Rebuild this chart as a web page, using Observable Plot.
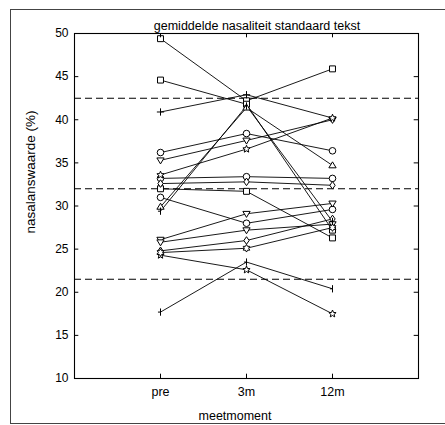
<!DOCTYPE html>
<html><head><meta charset="utf-8">
<script src="https://cdn.jsdelivr.net/npm/d3@7"></script>
<script src="https://cdn.jsdelivr.net/npm/@observablehq/plot@0.6"></script>
<style>
body{margin:0;background:#fff;}
#wrap{position:relative;width:445px;height:425px;overflow:hidden;font-family:"Liberation Sans",Arial,Helvetica,sans-serif;color:#000;}
#border{position:absolute;left:10px;top:9px;width:440px;height:413px;border:1px solid #444;border-right:none;}
#chart{position:absolute;left:0;top:0;}
.lbl{position:absolute;white-space:nowrap;font-size:12.5px;line-height:13px;}
#title{left:257px;top:20px;transform:translateX(-50%);}
#ylab{left:30px;top:172px;transform:translate(-50%,-50%) rotate(-90deg);font-size:13.5px;}
#xlab{left:235px;top:410px;transform:translateX(-50%);}
</style></head>
<body>
<div id="wrap">
  <div id="border"></div>
  <div id="chart"></div>
  <div class="lbl" id="title">gemiddelde nasaliteit standaard tekst</div>
  <div class="lbl" id="ylab">nasalanswaarde (%)</div>
  <div class="lbl" id="xlab">meetmoment</div>
</div>
<script>
// ---- data ----
const moments = ["pre", "3m", "12m"];
const preValues = [49.4, 44.6, 40.9, 36.2, 35.3, 33.6, 33.2, 32.6, 32.0, 31.0, 29.9, 29.4, 26.1, 25.8, 24.8, 24.6, 24.3, 17.7];
const m3Values  = [42.2, 41.8, 42.9, 38.4, 37.6, 36.6, 33.4, 32.8, 31.7, 28.0, 41.4, 41.6, 29.1, 27.2, 26.0, 25.1, 22.6, 23.5];
const m12Values = [45.9, 27.2, 40.2, 36.4, 40.0, 40.2, 33.2, 32.4, 26.3, 29.6, 34.7, 28.2, 30.3, 27.9, 28.5, 27.5, 17.5, 20.4];
const markers = ["square", "square", "plus", "circle", "triDown", "star", "circle", "diamond", "square", "circle",
                 "triUp", "tick", "triDown", "triDown", "diamond", "hexagram", "star", "tick"];
const refLines = [42.5, 32, 21.5];
const yTicks = [10, 15, 20, 25, 30, 35, 40, 45, 50];
const xTicks = [1, 2, 3];

// ---- symbols ----
const rad = s => Math.sqrt(s / Math.PI);
const symbols = {
  square: {draw(c, s){ const r = rad(s)*0.9; c.rect(-r, -r, 2*r, 2*r); }},
  circle: {draw(c, s){ const r = rad(s); c.moveTo(r, 0); c.arc(0, 0, r, 0, 2*Math.PI); }},
  diamond: {draw(c, s){ const r = rad(s)*1.15; c.moveTo(0,-r); c.lineTo(r*0.7,0); c.lineTo(0,r); c.lineTo(-r*0.7,0); c.closePath(); }},
  plus: {draw(c, s){ const r = rad(s)*1.1; c.moveTo(-r,0); c.lineTo(r,0); c.moveTo(0,-r); c.lineTo(0,r); }},
  triDown: {draw(c, s){ const r = rad(s)*1.1; c.moveTo(0,r); c.lineTo(-r,-r*0.65); c.lineTo(r,-r*0.65); c.closePath(); }},
  triUp: {draw(c, s){ const r = rad(s)*1.1; c.moveTo(0,-r); c.lineTo(-r,r*0.65); c.lineTo(r,r*0.65); c.closePath(); }},
  star: {draw(c, s){ const R = rad(s)*1.15, r = R*0.45;
    for (let i = 0; i < 10; i++) { const a = -Math.PI/2 + i*Math.PI/5, rr = i%2 ? r : R;
      const x = rr*Math.cos(a), y = rr*Math.sin(a); i ? c.lineTo(x,y) : c.moveTo(x,y); } c.closePath(); }},
  hexagram: {draw(c, s){ const R = rad(s)*1.15, r = R*0.58;
    for (let i = 0; i < 12; i++) { const a = -Math.PI/2 + i*Math.PI/6, rr = i%2 ? r : R;
      const x = rr*Math.cos(a), y = rr*Math.sin(a); i ? c.lineTo(x,y) : c.moveTo(x,y); } c.closePath(); }},
  tick: {draw(c, s){ const r = rad(s)*1.1; c.moveTo(0,-r); c.lineTo(0,r); c.moveTo(-r*0.7,0); c.lineTo(0,0); }}
};

// ---- long table ----
const rows = [];
preValues.forEach((v, i) => {
  [v, m3Values[i], m12Values[i]].forEach((val, k) => rows.push({subject: i, t: k + 1, value: val, marker: markers[i]}));
});

const dotMarks = Object.keys(symbols).map(name =>
  Plot.dot(rows.filter(d => d.marker === name), {x: "t", y: "value", symbol: symbols[name], r: 3.3,
    stroke: "#000", fill: "white", strokeWidth: 1}));

const chart = Plot.plot({
  width: 445, height: 425,
  marginLeft: 74, marginRight: 27, marginTop: 33, marginBottom: 47,
  style: {fontFamily: "'Liberation Sans', Arial, Helvetica, sans-serif", fontSize: "12px", color: "#000", background: "transparent"},
  x: {domain: [0, 4], label: null},
  y: {domain: [10, 50], label: null},
  marks: [
    Plot.ruleY(refLines, {y: d => d, stroke: "#000", strokeWidth: 1.1, strokeDasharray: "7,4"}),
    Plot.line(rows, {x: "t", y: "value", z: "subject", stroke: "#000", strokeWidth: 0.9}),
    ...dotMarks,
    Plot.frame({stroke: "#000", strokeWidth: 1.1}),
    // inward ticks on all four sides
    Plot.ruleY(yTicks, {y: d => d, x1: 0, x2: 0.05, stroke: "#000"}),
    Plot.ruleY(yTicks, {y: d => d, x1: 3.95, x2: 4, stroke: "#000"}),
    Plot.ruleX(xTicks, {x: d => d, y1: 10, y2: 10.5, stroke: "#000"}),
    Plot.ruleX(xTicks, {x: d => d, y1: 49.5, y2: 50, stroke: "#000"}),
    Plot.axisY({ticks: yTicks, tickSize: 0, tickPadding: 6, label: null, fontSize: 12}),
    Plot.axisX({ticks: xTicks, tickFormat: d => moments[d - 1], tickSize: 0, tickPadding: 9, label: null, fontSize: 12.5})
  ]
});
document.getElementById("chart").appendChild(chart);
</script>
</body></html>
